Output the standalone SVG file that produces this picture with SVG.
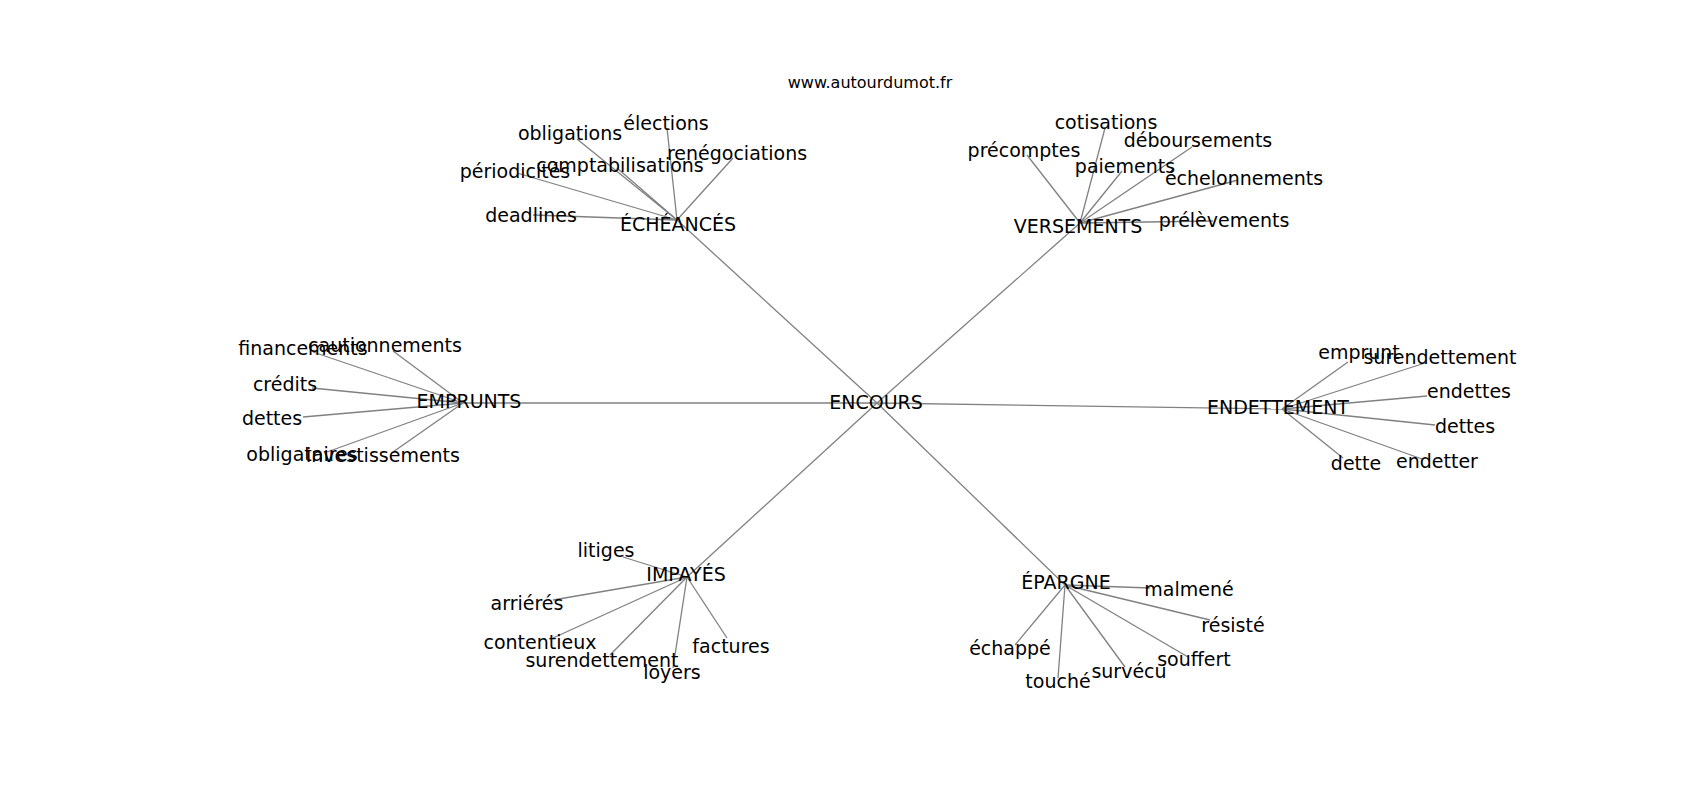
<svg xmlns="http://www.w3.org/2000/svg" width="1700" height="800" viewBox="0 0 1700 800">
<style>
.bg{fill:#fff}
.e{stroke:#808080;stroke-width:1.3;fill:none}
.t{font-family:"DejaVu Sans","Liberation Sans",sans-serif;font-size:19px;text-anchor:middle;fill:#000}
.title{font-family:"DejaVu Sans","Liberation Sans",sans-serif;font-size:16px;text-anchor:middle;fill:#000}
</style>
<rect class="bg" x="0" y="0" width="1700" height="800"/>
<text class="title" x="870" y="88">www.autourdumot.fr</text>
<g id="connectors">
<line class="e" x1="877" y1="403" x2="677" y2="220"/>
<line class="e" x1="877" y1="403" x2="1080" y2="223"/>
<line class="e" x1="877" y1="403" x2="463" y2="403"/>
<line class="e" x1="877" y1="403" x2="1282" y2="409"/>
<line class="e" x1="877" y1="403" x2="687" y2="577"/>
<line class="e" x1="877" y1="403" x2="1065" y2="585"/>
<line class="e" x1="677" y1="220" x2="533" y2="215"/>
<line class="e" x1="677" y1="220" x2="517" y2="173"/>
<line class="e" x1="677" y1="220" x2="617" y2="168"/>
<line class="e" x1="677" y1="220" x2="577" y2="139"/>
<line class="e" x1="677" y1="220" x2="667" y2="128"/>
<line class="e" x1="677" y1="220" x2="733" y2="158"/>
<line class="e" x1="1080" y1="223" x2="1105" y2="128"/>
<line class="e" x1="1080" y1="223" x2="1027" y2="155"/>
<line class="e" x1="1080" y1="223" x2="1192" y2="147"/>
<line class="e" x1="1080" y1="223" x2="1122" y2="171"/>
<line class="e" x1="1080" y1="223" x2="1238" y2="180"/>
<line class="e" x1="1080" y1="223" x2="1213" y2="221"/>
<line class="e" x1="463" y1="403" x2="313" y2="352"/>
<line class="e" x1="463" y1="403" x2="393" y2="351"/>
<line class="e" x1="463" y1="403" x2="312" y2="388"/>
<line class="e" x1="463" y1="403" x2="303" y2="417"/>
<line class="e" x1="463" y1="403" x2="327" y2="452"/>
<line class="e" x1="463" y1="403" x2="393" y2="452"/>
<line class="e" x1="1282" y1="409" x2="1348" y2="362"/>
<line class="e" x1="1282" y1="409" x2="1425" y2="363"/>
<line class="e" x1="1282" y1="409" x2="1427" y2="396"/>
<line class="e" x1="1282" y1="409" x2="1435" y2="425"/>
<line class="e" x1="1282" y1="409" x2="1343" y2="458"/>
<line class="e" x1="1282" y1="409" x2="1422" y2="459"/>
<line class="e" x1="687" y1="577" x2="623" y2="557"/>
<line class="e" x1="687" y1="577" x2="553" y2="600"/>
<line class="e" x1="687" y1="577" x2="553" y2="638"/>
<line class="e" x1="687" y1="577" x2="610" y2="655"/>
<line class="e" x1="687" y1="577" x2="673" y2="668"/>
<line class="e" x1="687" y1="577" x2="727" y2="638"/>
<line class="e" x1="1065" y1="585" x2="1150" y2="588"/>
<line class="e" x1="1065" y1="585" x2="1210" y2="620"/>
<line class="e" x1="1065" y1="585" x2="1015" y2="645"/>
<line class="e" x1="1065" y1="585" x2="1058" y2="678"/>
<line class="e" x1="1065" y1="585" x2="1125" y2="667"/>
<line class="e" x1="1065" y1="585" x2="1188" y2="657"/>
</g>
<g id="n-encours"><text class="t" x="876" y="409">ENCOURS</text></g>
<g id="n-echeances"><text class="t" x="678" y="231">ÉCHÉANCÉS</text></g>
<g id="n-versements"><text class="t" x="1078" y="233">VERSEMENTS</text></g>
<g id="n-emprunts"><text class="t" x="469" y="408">EMPRUNTS</text></g>
<g id="n-endettement"><text class="t" x="1278" y="414">ENDETTEMENT</text></g>
<g id="n-impayes"><text class="t" x="686" y="581">IMPAYÉS</text></g>
<g id="n-epargne"><text class="t" x="1066" y="589">ÉPARGNE</text></g>
<g id="n-deadlines"><text class="t" x="531" y="222">deadlines</text></g>
<g id="n-periodicites"><text class="t" x="515" y="178">périodicités</text></g>
<g id="n-comptabilisations"><text class="t" x="620" y="172">comptabilisations</text></g>
<g id="n-obligations"><text class="t" x="570" y="140">obligations</text></g>
<g id="n-elections"><text class="t" x="666" y="130">élections</text></g>
<g id="n-renegociations"><text class="t" x="737" y="160">renégociations</text></g>
<g id="n-cotisations"><text class="t" x="1106" y="129">cotisations</text></g>
<g id="n-precomptes"><text class="t" x="1024" y="157">précomptes</text></g>
<g id="n-deboursements"><text class="t" x="1198" y="147">déboursements</text></g>
<g id="n-paiements"><text class="t" x="1125" y="173">paiements</text></g>
<g id="n-echelonnements"><text class="t" x="1244" y="185">échelonnements</text></g>
<g id="n-prelevements"><text class="t" x="1224" y="227">prélèvements</text></g>
<g id="n-financements"><text class="t" x="303" y="355">financements</text></g>
<g id="n-cautionnements"><text class="t" x="385" y="352">cautionnements</text></g>
<g id="n-credits"><text class="t" x="285" y="391">crédits</text></g>
<g id="n-dettes1"><text class="t" x="272" y="425">dettes</text></g>
<g id="n-obligataires"><text class="t" x="302" y="461">obligataires</text></g>
<g id="n-investissements"><text class="t" x="383" y="462">investissements</text></g>
<g id="n-emprunt"><text class="t" x="1359" y="359">emprunt</text></g>
<g id="n-surendettement1"><text class="t" x="1440" y="364">surendettement</text></g>
<g id="n-endettes"><text class="t" x="1469" y="398">endettes</text></g>
<g id="n-dettes2"><text class="t" x="1465" y="433">dettes</text></g>
<g id="n-dette"><text class="t" x="1356" y="470">dette</text></g>
<g id="n-endetter"><text class="t" x="1437" y="468">endetter</text></g>
<g id="n-litiges"><text class="t" x="606" y="557">litiges</text></g>
<g id="n-arrieres"><text class="t" x="527" y="610">arriérés</text></g>
<g id="n-contentieux"><text class="t" x="540" y="649">contentieux</text></g>
<g id="n-surendettement2"><text class="t" x="602" y="667">surendettement</text></g>
<g id="n-loyers"><text class="t" x="672" y="679">loyers</text></g>
<g id="n-factures"><text class="t" x="731" y="653">factures</text></g>
<g id="n-malmene"><text class="t" x="1189" y="596">malmené</text></g>
<g id="n-resiste"><text class="t" x="1233" y="632">résisté</text></g>
<g id="n-echappe"><text class="t" x="1010" y="655">échappé</text></g>
<g id="n-touche"><text class="t" x="1058" y="688">touché</text></g>
<g id="n-survecu"><text class="t" x="1129" y="678">survécu</text></g>
<g id="n-souffert"><text class="t" x="1194" y="666">souffert</text></g>
</svg>
